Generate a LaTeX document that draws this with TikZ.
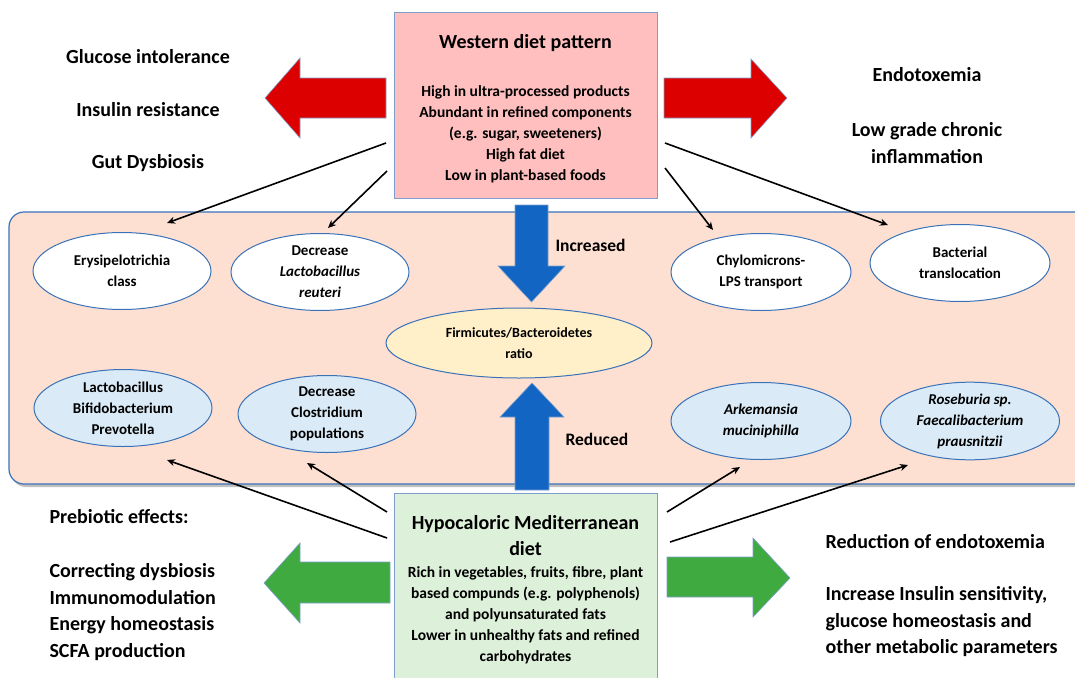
\documentclass[tikz,border=0pt]{standalone}
\usepackage{fontspec}
\setmainfont{Carlito}
\usetikzlibrary{shapes.geometric,arrows.meta}

\definecolor{boxblue}{HTML}{7E9FCB}
\definecolor{ovalblue}{HTML}{3A72B8}
\definecolor{pinkfill}{HTML}{FFBFBF}
\definecolor{greenfill}{HTML}{DDF0D9}
\definecolor{bandfill}{HTML}{FDE0D2}
\definecolor{bluefill}{HTML}{DAEBF7}
\definecolor{yellowfill}{HTML}{FFF0C9}
\definecolor{redblock}{HTML}{DD0000}
\definecolor{greenblock}{HTML}{3FAA3F}
\definecolor{blueblock}{HTML}{1265C2}

\begin{document}
\begin{tikzpicture}[x=1pt,y=-1pt]
 \tikzset{
  oval/.style={ellipse, draw=ovalblue, line width=1pt, fill=#1,
    minimum width=178pt, minimum height=77pt, inner sep=0pt,
    align=center, font=\fontsize{15}{21}\selectfont\bfseries},
  oval/.default=white,
  dietbox/.style={draw=boxblue, line width=1pt, fill=#1,
    minimum width=263pt, minimum height=186pt, inner sep=0pt},
  dietbox/.default=white,
  boxtitle/.style={align=center, font=\fontsize{20}{26}\selectfont\bfseries},
  boxtext/.style={align=center, font=\fontsize{15.5}{21}\selectfont\bfseries},
  sidetext/.style={align=center, font=\fontsize{20}{26.5}\selectfont\bfseries},
  block/.style={fill=#1, draw=boxblue, line width=0.6pt},
  link/.style={-{Stealth[length=8pt,width=7pt]}, line width=1.6pt}
 }
\useasboundingbox (0,0) rectangle (1075,677);

% gut band
\fill[black!25, rounded corners=15pt] (11,215) rectangle (1092,487);
\draw[ovalblue, line width=1.2pt, fill=bandfill, rounded corners=15pt]
  (9,212) rectangle (1090,484);

% diet boxes
\node[dietbox=pinkfill] (western) at (525.5,105.5) {};
\node[boxtitle] (westerntitle) at (525.5,43) {Western diet pattern};
\node[boxtext] (westerntext) at (525.5,134) {High in ultra-processed products\\
  Abundant in refined components\\(e.g. sugar, sweeteners)\\
  High fat diet\\Low in plant-based foods};

\node[dietbox=greenfill, minimum height=190pt] (medit) at (525.5,588) {};
\node[boxtitle] (medittitle) at (525.5,536) {Hypocaloric Mediterranean\\diet};
\node[boxtext] (medittext) at (525.5,615) {Rich in vegetables, fruits, fibre, plant\\
  based compunds (e.g. polyphenols)\\and polyunsaturated fats\\
  Lower in unhealthy fats and refined\\carbohydrates};

% block arrows
\filldraw[block=redblock] (386,78) -- (300,78) -- (300,58) -- (265,98)
  -- (300,138) -- (300,118) -- (386,118) -- cycle;
\filldraw[block=redblock] (664,78) -- (751,78) -- (751,59) -- (787,98)
  -- (751,138) -- (751,118) -- (664,118) -- cycle;
\filldraw[block=greenblock] (390,562) -- (300,562) -- (300,543) -- (264,583)
  -- (300,623) -- (300,603) -- (390,603) -- cycle;
\filldraw[block=greenblock] (667,557) -- (753,557) -- (753,538) -- (790,578)
  -- (753,617) -- (753,597) -- (667,597) -- cycle;
\filldraw[block=blueblock] (515,205) -- (548,205) -- (548,266) -- (565,266)
  -- (531.5,302) -- (498,266) -- (515,266) -- cycle;
\filldraw[block=blueblock] (515,490) -- (549,490) -- (549,417) -- (564,417)
  -- (532,383) -- (500,417) -- (515,417) -- cycle;

% microbiota
\node[oval] (ery) at (122,271) {Erysipelotrichia\\class};
\node[oval] (lreu) at (320,272) {Decrease\\\textit{Lactobacillus}\\\textit{reuteri}};
\node[oval, minimum width=180pt] (chylo) at (761,272) {Chylomicrons-\\LPS transport};
\node[oval, minimum width=180pt] (bact) at (960,263) {Bacterial\\translocation};
\node[oval=yellowfill, minimum width=266pt, minimum height=70pt,
  font=\fontsize{14}{21}\selectfont\bfseries] (fb) at (519,343)
  {Firmicutes/Bacteroidetes\\ratio};
\node[oval=bluefill] (lbp) at (123,408) {Lactobacillus\\Bifidobacterium\\Prevotella};
\node[oval=bluefill] (clos) at (327,414) {Decrease\\Clostridium\\populations};
\node[oval=bluefill, minimum width=180pt] (akk) at (761,421)
  {\textit{Arkemansia}\\\textit{muciniphilla}};
\node[oval=bluefill, minimum width=179pt] (rose) at (970,421)
  {\textit{Roseburia sp.}\\\textit{Faecalibacterium}\\\textit{prausnitzii}};

\node[anchor=west, font=\fontsize{17.5}{20}\selectfont\bfseries] (incr) at (552,245) {Increased};
\node[anchor=west, font=\fontsize{17.5}{20}\selectfont\bfseries] (redu) at (562,439) {Reduced};

% effects
\node[sidetext] (glu) at (148,57) {Glucose intolerance};
\node[sidetext] (ins) at (148,110) {Insulin resistance};
\node[sidetext] (dys) at (148,163) {Gut Dysbiosis};
\node[sidetext] (endo) at (927,75) {Endotoxemia};
\node[sidetext] (infl) at (927,143) {Low grade chronic\\inflammation};
\node[sidetext, anchor=west] (preb) at (46,517) {Prebiotic effects:};
\node[sidetext, anchor=west, align=left] (prebl) at (46,612)
  {Correcting dysbiosis\\Immunomodulation\\Energy homeostasis\\SCFA production};
\node[sidetext, anchor=west] (redendo) at (822,542) {Reduction of endotoxemia};
\node[sidetext, anchor=west, align=left] (insl) at (822,622)
  {Increase Insulin sensitivity,\\glucose homeostasis and\\other metabolic parameters};

% connectors
\coordinate (w1) at (386,143); \coordinate (w2) at (387,171);
\coordinate (w3) at (665,143); \coordinate (w4) at (665,168);
\coordinate (m1) at (387,512); \coordinate (m2) at (387,538);
\coordinate (m3) at (667,512); \coordinate (m4) at (670,542);
\coordinate (eryt) at (167,223); \coordinate (lreut) at (328,228);
\coordinate (bactt) at (888,225); \coordinate (chylot) at (713,230);
\coordinate (clost) at (307,463); \coordinate (lbpt) at (167,460);
\coordinate (akkt) at (740,467); \coordinate (roset) at (908,465);
\draw[link] (w1) -- (eryt);
\draw[link] (w2) -- (lreut);
\draw[link] (w3) -- (bactt);
\draw[link] (w4) -- (chylot);
\draw[link] (m1) -- (clost);
\draw[link] (m2) -- (lbpt);
\draw[link] (m3) -- (akkt);
\draw[link] (m4) -- (roset);
\end{tikzpicture}
\end{document}
